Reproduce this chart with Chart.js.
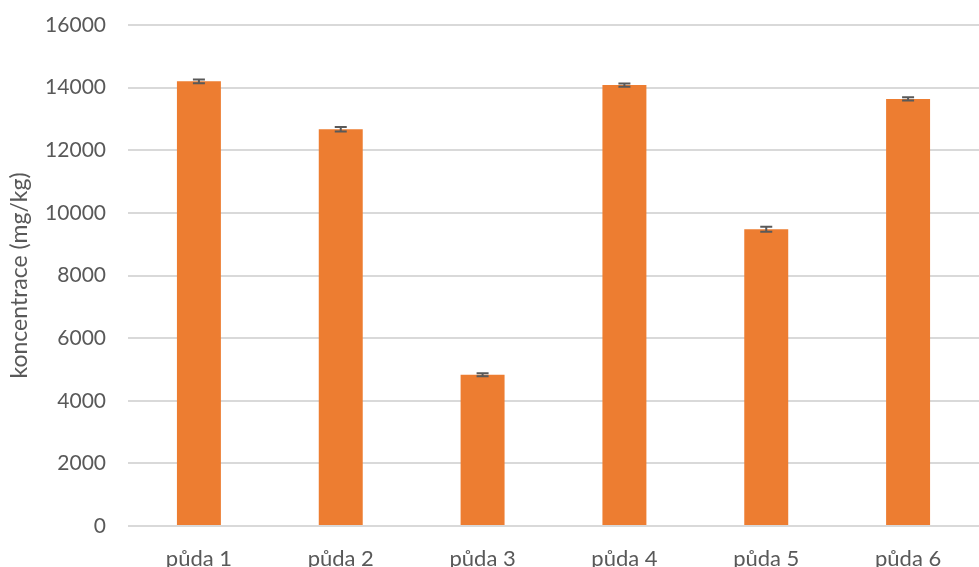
<!DOCTYPE html>
<html>
<head>
<meta charset="utf-8">
<script src="https://cdn.jsdelivr.net/npm/chart.js@4/dist/chart.umd.min.js"></script>
<style>
  html, body { margin: 0; padding: 0; background: #fff; }
  #wrap { width: 979px; height: 567px; }
</style>
</head>
<body>
<div id="wrap"><canvas id="chart" width="979" height="567"></canvas></div>
<script>
const categories = ['půda 1', 'půda 2', 'půda 3', 'půda 4', 'půda 5', 'půda 6'];
const values = [14200, 12670, 4830, 14080, 9480, 13640];
const errors = [60, 75, 50, 55, 80, 50];
const yTicks = [0, 2000, 4000, 6000, 8000, 10000, 12000, 14000, 16000];

const FONT = 'Lato, "Open Sans", sans-serif';

// simple error bars drawn on top of the bars
const errorBars = {
    id: 'errorBars',
    afterDatasetsDraw(chart) {
        const ctx = chart.ctx;
        const meta = chart.getDatasetMeta(0);
        const y = chart.scales.y;
        ctx.save();
        ctx.strokeStyle = '#595959';
        ctx.lineWidth = 2;
        meta.data.forEach((bar, i) => {
            const top = y.getPixelForValue(values[i] + errors[i]);
            const bottom = y.getPixelForValue(values[i] - errors[i]);
            const x = bar.x;
            ctx.beginPath();
            ctx.moveTo(x, top);
            ctx.lineTo(x, bottom);
            ctx.moveTo(x - 6, top);
            ctx.lineTo(x + 6, top);
            ctx.moveTo(x - 6, bottom);
            ctx.lineTo(x + 6, bottom);
            ctx.stroke();
        });
        ctx.restore();
    }
};

new Chart(document.getElementById('chart').getContext('2d'), {
    type: 'bar',
    data: {
        labels: categories,
        datasets: [{
            data: values,
            backgroundColor: '#ED7D31',
            borderWidth: 0,
            barPercentage: 0.31,
            categoryPercentage: 1
        }]
    },
    options: {
        responsive: false,
        animation: false,
        layout: { padding: { top: 25, right: 0, left: 0, bottom: 0 } },
        plugins: {
            legend: { display: false },
            tooltip: { enabled: false }
        },
        scales: {
            x: {
                grid: { display: false },
                border: { display: false },
                ticks: { color: '#595959', font: { family: FONT, size: 22 }, padding: 12 },
                afterFit: s => { s.height = 41; }
            },
            y: {
                min: 0,
                max: 16000,
                afterBuildTicks: s => { s.ticks = yTicks.map(v => ({ value: v })); },
                grid: { color: '#D9D9D9', lineWidth: 2, drawTicks: false },
                border: { display: false },
                ticks: {
                    color: '#595959',
                    font: { family: FONT, size: 21 },
                    padding: 22,
                    callback: v => String(v)
                },
                title: {
                    display: true,
                    text: 'koncentrace (mg/kg)',
                    color: '#595959',
                    font: { family: FONT, size: 23 },
                    padding: { top: 6, bottom: 0 }
                },
                afterFit: s => {
                    s.width = 128;
                    s.paddingTop = 0;
                    s.paddingBottom = 0;
                }
            }
        }
    },
    plugins: [errorBars]
});
</script>
</body>
</html>
